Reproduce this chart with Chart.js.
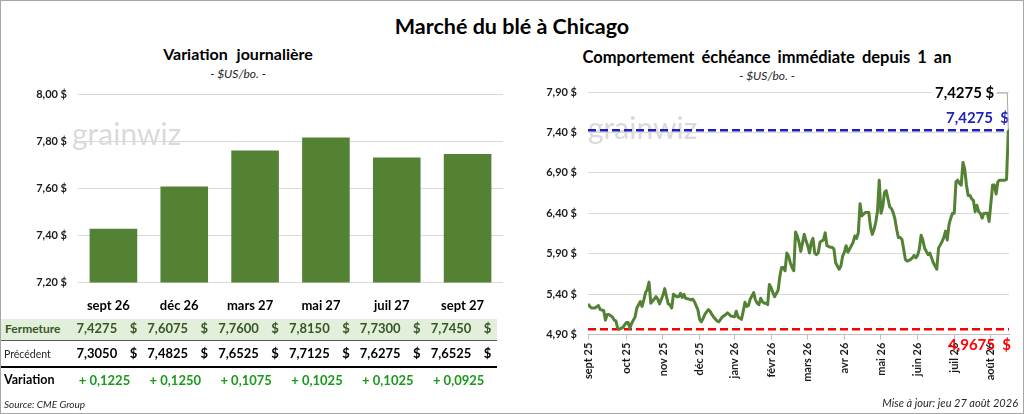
<!DOCTYPE html>
<html lang="fr">
<head>
<meta charset="utf-8">
<title>Marché du blé à Chicago</title>
<script src="https://cdn.jsdelivr.net/npm/chart.js@4.4.1/dist/chart.umd.min.js"></script>
<style>
  html, body { margin: 0; padding: 0; background: #fff; }
  body { font-family: Lato, 'Open Sans', sans-serif; color: #000; }
  #frame { position: relative; width: 1024px; height: 414px; overflow: hidden; background: #fff; }
  #cadre { position: absolute; left: 0; top: 0; width: 1024px; height: 414px; box-sizing: border-box; border: 1px solid #a6a6a6; pointer-events: none; z-index: 5; }
  canvas { position: absolute; top: 0; }
  #barCanvas { left: 0; }
  #lineCanvas { left: 512px; }
  .t { position: absolute; white-space: nowrap; line-height: 1; }
  .titre { font-weight: 700; text-align: center; }
  .unite { font-style: italic; font-size: 12px; text-align: center; color: #262626; }
  .rowbg { position: absolute; left: 1px; }
</style>
</head>
<body>
<div id="frame">
  <div class="t titre" style="left:312px;width:400px;top:16px;font-size:21.5px;">Marché du blé à Chicago</div>
  <div class="t titre" style="left:88px;width:300px;top:46px;font-size:16px;word-spacing:5px;">Variation journalière</div>
  <div class="t unite" style="left:138px;width:200px;top:68px;">- $US/bo. -</div>
  <div class="t titre" style="left:517px;width:500px;top:48.5px;font-size:16.5px;word-spacing:3px;">Comportement échéance immédiate depuis 1 an</div>
  <div class="t unite" style="left:667px;width:200px;top:70px;">- $US/bo. -</div>

  <canvas id="barCanvas" width="512" height="300"></canvas>
  <canvas id="lineCanvas" width="512" height="414"></canvas>

  <div class="rowbg" style="top:319px;width:496px;height:21px;background:#e2efda;border-bottom:1px solid #595959;"></div>
  <div class="rowbg" style="top:366px;width:496px;height:0;border-bottom:2px solid #000;"></div>
  <div id="table"></div>

  <div class="t" style="left:4px;top:399px;font-size:10px;font-style:italic;color:#262626;">Source: CME Group</div>
  <div class="t" style="right:6px;top:397px;font-size:11px;font-style:italic;color:#262626;">Mise à jour: jeu 27 août 2026</div>
  <div id="cadre"></div>
</div>

<script>
// ─── Variation journalière (contrats) ─────────────────────────────
const contrats  = ['sept 26', 'déc 26', 'mars 27', 'mai 27', 'juil 27', 'sept 27'];
const fermeture = [7.4275, 7.6075, 7.7600, 7.8150, 7.7300, 7.7450];
const precedent = [7.3050, 7.4825, 7.6525, 7.7125, 7.6275, 7.6525];
const variation = [0.1225, 0.1250, 0.1075, 0.1025, 0.1025, 0.0925];
const barTicks  = [7.20, 7.40, 7.60, 7.80, 8.00];

// ─── Échéance immédiate depuis 1 an (index de séance → $US/bo.) ────
const moisLabels = ['sept 25', 'oct 25', 'nov 25', 'déc 25', 'janv 26', 'févr 26',
                    'mars 26', 'avr 26', 'mai 26', 'juin 26', 'juil 26', 'août 26'];
const moisPos    = [0, 22, 43, 64, 84, 105, 126, 147, 168, 189, 210, 231];
const lineTicks  = [4.90, 5.40, 5.90, 6.40, 6.90, 7.40, 7.90];
const seanceIdx = [
  0, 1, 2, 4, 6, 7, 9, 10, 11, 12, 14, 15, 16, 17, 18, 20, 21, 22, 23, 24, 25, 27, 28, 30, 31, 32, 33, 34, 35, 36,
  38, 39, 40, 41, 43, 44, 45, 46, 47, 48, 49, 51, 52, 53, 54, 55, 56, 58, 59, 60, 61, 62, 63, 64, 65, 66, 67,
  69, 70, 71, 72, 74, 75, 76, 77, 79, 80, 81, 82, 84, 85, 86, 88, 89, 90, 91, 92, 93, 95, 96, 97, 98, 99, 100, 101, 102, 103,
  104, 105, 106, 107, 109, 110, 111, 112, 113, 114, 115, 116, 117, 118, 119, 120, 121, 122, 124, 125, 126, 127, 128, 129, 130, 131, 132, 133, 134, 135, 136, 137,
  139, 140, 141, 142, 143, 144, 145, 146, 147, 148, 149, 150, 151, 152, 153, 154, 155, 156, 157, 158, 159, 161, 162, 163, 164, 165, 166,
  167, 168, 169, 170, 171, 172, 173, 174, 175, 176, 177, 178, 179, 180, 181, 182, 183, 184, 185, 186, 187, 188, 189, 190, 191, 192, 193, 194, 195, 196, 197, 198, 199, 200,
  201, 202, 203, 204, 205, 206, 207, 208, 209, 210, 211, 212, 213, 214, 215, 216, 217, 218, 219, 220, 221, 222, 223, 224, 225, 226, 227, 228, 229, 230, 231, 232, 233, 234, 235, 236, 237, 238, 239, 240, 241,
];
const echeance = [
  5.28, 5.25, 5.23, 5.23, 5.26, 5.21, 5.20, 5.08, 5.15, 5.15, 5.12, 5.08, 5.07, 4.98, 4.9675, 4.99, 5.02, 5.05, 5.05, 4.98, 5.04, 5.12, 5.23, 5.31, 5.25, 5.33, 5.42, 5.46, 5.55, 5.29,
  5.34, 5.37, 5.34, 5.28, 5.39, 5.47, 5.37, 5.28, 5.27, 5.23, 5.40, 5.37, 5.37, 5.41, 5.36, 5.40, 5.35, 5.34, 5.33, 5.34, 5.31, 5.26, 5.21, 5.09, 5.06, 5.10, 5.15,
  5.21, 5.19, 5.15, 5.12, 5.07, 5.06, 5.09, 5.12, 5.15, 5.17, 5.15, 5.13, 5.12, 5.19, 5.12, 5.09, 5.19, 5.30, 5.25, 5.26, 5.34, 5.42, 5.33, 5.29, 5.27, 5.35, 5.31, 5.29, 5.29, 5.27,
  5.52, 5.48, 5.42, 5.37, 5.45, 5.62, 5.73, 5.73, 5.69, 5.91, 5.87, 5.79, 5.73, 5.69, 6.17, 6.12, 6.04, 5.93, 6.14, 6.06, 6.00, 5.91, 6.04, 6.09, 5.91, 5.89, 5.91, 6.04, 6.06, 6.07, 6.16, 6.00,
  5.98, 5.98, 5.96, 5.79, 5.75, 5.71, 5.75, 5.87, 5.92, 6.00, 5.92, 5.96, 6.00, 6.04, 6.12, 6.09, 6.16, 6.52, 6.37, 6.39, 6.41, 6.41, 6.23, 6.14, 6.20, 6.29, 6.43,
  6.81, 6.40, 6.48, 6.66, 6.68, 6.58, 6.48, 6.46, 6.41, 6.33, 6.20, 6.10, 6.10, 6.08, 5.96, 5.83, 5.81, 5.82, 5.83, 5.85, 5.88, 5.85, 5.88, 5.96, 6.13, 6.07, 5.97, 5.93, 5.89, 5.91, 5.85, 5.79, 5.75, 5.71,
  5.97, 6.01, 6.05, 6.10, 6.18, 6.07, 6.26, 6.34, 6.40, 6.40, 6.79, 6.81, 6.77, 6.75, 7.03, 6.95, 6.75, 6.62, 6.62, 6.58, 6.56, 6.42, 6.50, 6.42, 6.40, 6.34, 6.40, 6.40, 6.40, 6.30, 6.52, 6.75, 6.75, 6.64, 6.79, 6.81, 6.81, 6.81, 6.81, 6.82, 7.4275,
];

const VERT = '#548235';
const AXE_FONT = { family: 'Lato', size: 11, weight: 'bold' };

function fmtDollar(v, d) { return v.toFixed(d).replace('.', ',') + ' $'; }
function fmtNum(v) { return v.toFixed(4).replace('.', ','); }

// filigrane « grainwiz » derrière les données
const filigrane = {
  id: 'filigrane',
  beforeDatasetsDraw(chart, args, opts) {
    const { ctx, chartArea } = chart;
    ctx.save();
    ctx.font = '30px Lato';
    ctx.fillStyle = '#dadada';
    ctx.textBaseline = 'alphabetic';
    ctx.fillText('grainwiz', chartArea.left + opts.dx, chartArea.top + opts.dy);
    ctx.restore();
  },
};

// ─── histogramme ─────────────────────────────────────────────────
const barChart = new Chart(document.getElementById('barCanvas'), {
  type: 'bar',
  data: {
    labels: contrats,
    datasets: [{ data: fermeture, backgroundColor: VERT, barPercentage: 0.672, categoryPercentage: 1 }],
  },
  options: {
    responsive: false, animation: false,
    layout: { padding: { top: 94, right: 9, bottom: 15, left: 0 } },
    plugins: { legend: { display: false }, tooltip: { enabled: false }, filigrane: { dx: -6, dy: 51 } },
    scales: {
      x: { display: false },
      y: {
        min: 7.2, max: 8.0,
        afterBuildTicks: s => { s.ticks = barTicks.map(v => ({ value: v })); },
        afterFit: s => { s.width = 78; },
        grid: { color: '#d9d9d9', drawTicks: false },
        border: { display: false },
        ticks: { padding: 11, color: '#1a1a1a', font: AXE_FONT, callback: v => fmtDollar(v, 2) },
      },
    },
  },
  plugins: [filigrane],
});

// tableau sous l'histogramme, aligné sur les colonnes du graphique
(function buildTable() {
  const xs = barChart.scales.x;
  const col = (xs.right - xs.left) / contrats.length;
  const half = col * 0.672 / 2;
  const el = document.getElementById('table');
  let html = '';
  const cell = (left, top, w, align, style, txt) =>
    `<div class="t" style="left:${left}px;top:${top}px;width:${w}px;text-align:${align};${style}">${txt}</div>`;

  html += cell(5, 323, 80, 'left', 'font-size:12px;font-weight:700;color:#375623;', 'Fermeture');
  html += cell(4, 349, 80, 'left', 'font-size:10.5px;color:#262626;', 'Précédent');
  html += cell(4, 374, 80, 'left', 'font-size:12.5px;font-weight:700;', 'Variation');

  contrats.forEach((c, i) => {
    const cx = xs.getPixelForValue(i);
    const r = cx + half;
    html += cell(cx - 45, 299, 80, 'center', 'font-size:13px;font-weight:700;', c);
    html += cell(r - 100, 322, 80, 'right', 'font-size:13px;font-weight:700;color:#375623;', fmtNum(fermeture[i]));
    html += cell(r - 12, 322, 12, 'right', 'font-size:13px;font-weight:700;color:#375623;', '$');
    html += cell(r - 100, 347, 80, 'right', 'font-size:13px;font-weight:700;', fmtNum(precedent[i]));
    html += cell(r - 12, 347, 12, 'right', 'font-size:13px;font-weight:700;', '$');
    html += cell(r - 107, 374, 100, 'right', 'font-size:13px;font-weight:700;color:#1a9a1a;', '+ ' + fmtNum(variation[i]));
  });
  el.innerHTML = html;
})();

// ─── courbe de l'échéance immédiate ───────────────────────────────
const points = seanceIdx.map((x, i) => ({ x, y: echeance[i] }));
const maxVal = Math.max(...echeance);
const minVal = Math.min(...echeance);
const xMax = 241.4;

const etiquettes = {
  id: 'etiquettes',
  afterDatasetsDraw(chart) {
    const { ctx, chartArea, scales: { x, y } } = chart;
    const n = seanceIdx.length - 1;
    const px = x.getPixelForValue(seanceIdx[n]);
    const py = y.getPixelForValue(echeance[n]);
    ctx.save();
    ctx.font = 'bold 15px Lato';
    ctx.textAlign = 'right';
    ctx.textBaseline = 'middle';
    ctx.fillStyle = '#1f1fbf';
    ctx.fillText(fmtNum(maxVal) + '  $', chartArea.right, y.getPixelForValue(maxVal) - 12);
    ctx.fillStyle = '#ff0000';
    ctx.fillText(fmtNum(minVal) + '  $', chartArea.right + 2, y.getPixelForValue(minVal) + 16);

    // dernière valeur, avec sa ligne de rappel
    const txt = fmtDollar(echeance[n], 4);
    const lx = px - 14, ly = chartArea.top + 1;
    const w = ctx.measureText(txt).width;
    ctx.fillStyle = '#fff';
    ctx.fillRect(lx - w - 3, ly - 9, w + 6, 18);
    ctx.strokeStyle = '#a6a6a6';
    ctx.lineWidth = 1;
    ctx.beginPath();
    ctx.moveTo(lx + 2, ly);
    ctx.lineTo(px - 1, ly);
    ctx.lineTo(px, py);
    ctx.stroke();
    ctx.fillStyle = '#000';
    ctx.fillText(txt, lx, ly);
    ctx.restore();
  },
};

new Chart(document.getElementById('lineCanvas'), {
  type: 'line',
  data: {
    datasets: [
      { data: points, borderColor: VERT, borderWidth: 3, pointRadius: 0, tension: 0, borderJoinStyle: 'round' },
      { data: [{ x: 0, y: maxVal }, { x: xMax, y: maxVal }], borderColor: '#1f1fbf', borderWidth: 2.5, borderDash: [8, 4], pointRadius: 0 },
      { data: [{ x: 0, y: minVal }, { x: xMax, y: minVal }], borderColor: '#ff0000', borderWidth: 2.5, borderDash: [8, 4], pointRadius: 0 },
    ],
  },
  options: {
    responsive: false, animation: false,
    layout: { padding: { top: 92, right: 15, bottom: 0, left: 0 } },
    plugins: { legend: { display: false }, tooltip: { enabled: false }, filigrane: { dx: 0, dy: 47 } },
    scales: {
      x: {
        type: 'linear', min: 0, max: xMax,
        afterBuildTicks: s => { s.ticks = moisPos.map(v => ({ value: v })); },
        afterFit: s => { s.height = 79.3; },
        grid: { drawOnChartArea: false, drawTicks: true, tickLength: 5, color: '#bfbfbf' },
        border: { display: true, color: '#bfbfbf' },
        ticks: {
          autoSkip: false, minRotation: 90, maxRotation: 90, padding: 3,
          color: '#1a1a1a', font: { family: 'Lato', size: 11, weight: 'bold' },
          callback: (v, i) => moisLabels[i],
        },
      },
      y: {
        min: 4.9, max: 7.9,
        afterBuildTicks: s => { s.ticks = lineTicks.map(v => ({ value: v })); },
        afterFit: s => { s.width = 76; },
        grid: { color: '#d9d9d9', drawTicks: false },
        border: { display: false },
        ticks: { padding: 11, color: '#1a1a1a', font: AXE_FONT, callback: v => fmtDollar(v, 2) },
      },
    },
  },
  plugins: [filigrane, etiquettes],
});
</script>
</body>
</html>
